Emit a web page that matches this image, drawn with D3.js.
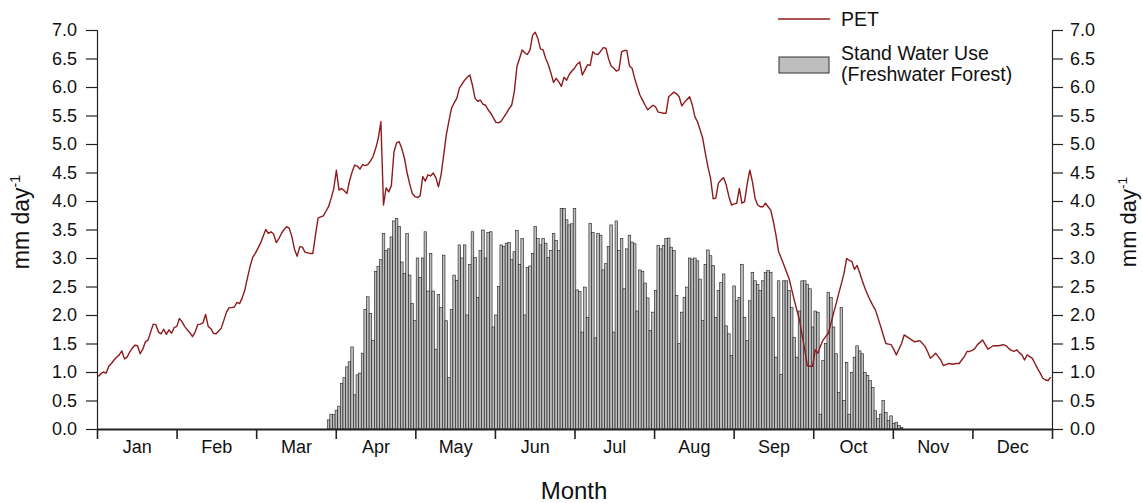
<!DOCTYPE html>
<html>
<head>
<meta charset="utf-8">
<script src="https://cdn.jsdelivr.net/npm/d3@7"></script>
<style>
  html, body { margin: 0; padding: 0; background: #fff; }
  svg { display: block; font-family: "Liberation Sans", Arial, sans-serif; }
</style>
</head>
<body>
<svg id="chart" width="1143" height="503"></svg>
<script>
// Month labels along the x axis (year split into 12 equal intervals)
const months = ["Jan", "Feb", "Mar", "Apr", "May", "Jun", "Jul", "Aug", "Sep", "Oct", "Nov", "Dec"];

// y-axis tick values (mm day-1), shared by both vertical axes
const yTicks = [0, 0.5, 1, 1.5, 2, 2.5, 3, 3.5, 4, 4.5, 5, 5.5, 6, 6.5, 7];

// Daily potential evapotranspiration, day 1..365 (mm day-1)
const pet = [
  0.92, 0.97, 1.00, 0.98, 1.10, 1.15, 1.21, 1.26, 1.30, 1.37,
  1.23, 1.26, 1.35, 1.42, 1.47, 1.46, 1.32, 1.40, 1.53, 1.56,
  1.70, 1.84, 1.83, 1.70, 1.67, 1.75, 1.66, 1.74, 1.68, 1.78,
  1.80, 1.94, 1.88, 1.80, 1.74, 1.69, 1.62, 1.70, 1.83, 1.84,
  1.86, 2.01, 1.80, 1.76, 1.68, 1.67, 1.72, 1.77, 1.91, 2.05,
  2.13, 2.13, 2.14, 2.22, 2.20, 2.30, 2.44, 2.65, 2.85, 3.01,
  3.08, 3.17, 3.26, 3.38, 3.50, 3.43, 3.46, 3.42, 3.27, 3.34,
  3.43, 3.50, 3.55, 3.52, 3.37, 3.15, 3.03, 3.20, 3.19, 3.10,
  3.09, 3.08, 3.08, 3.40, 3.70, 3.72, 3.74, 3.82, 3.90, 4.05,
  4.22, 4.54, 4.19, 4.22, 4.18, 4.13, 4.35, 4.51, 4.63, 4.61,
  4.56, 4.64, 4.62, 4.64, 4.70, 4.78, 4.92, 5.10, 5.39, 3.93,
  4.23, 4.16, 4.27, 4.86, 5.02, 5.04, 4.92, 4.75, 4.50, 4.30,
  4.13, 4.08, 4.06, 4.09, 4.43, 4.35, 4.46, 4.44, 4.49, 4.41,
  4.25, 4.46, 4.80, 5.16, 5.40, 5.63, 5.72, 5.80, 5.98, 6.05,
  6.12, 6.17, 6.21, 6.03, 5.80, 5.75, 5.77, 5.70, 5.68, 5.60,
  5.54, 5.46, 5.38, 5.37, 5.40, 5.47, 5.54, 5.62, 5.68, 5.92,
  6.36, 6.50, 6.65, 6.60, 6.57, 6.65, 6.91, 6.96, 6.85, 6.67,
  6.65, 6.50, 6.39, 6.24, 6.08, 6.15, 6.09, 6.01, 6.17, 6.12,
  6.22, 6.28, 6.33, 6.40, 6.44, 6.21, 6.30, 6.39, 6.38, 6.62,
  6.58, 6.57, 6.63, 6.69, 6.68, 6.50, 6.37, 6.33, 6.28, 6.30,
  6.62, 6.64, 6.64, 6.37, 6.33, 6.15, 6.00, 5.86, 5.77, 5.68,
  5.60, 5.64, 5.68, 5.65, 5.56, 5.55, 5.54, 5.54, 5.83, 5.87,
  5.91, 5.88, 5.83, 5.67, 5.73, 5.78, 5.83, 5.69, 5.48, 5.39,
  5.25, 5.10, 4.84, 4.60, 4.40, 4.04, 4.05, 4.31, 4.37, 4.41,
  4.28, 4.08, 3.93, 3.95, 3.96, 4.22, 3.96, 3.99, 4.30, 4.54,
  4.34, 4.05, 3.93, 3.90, 3.90, 3.96, 3.90, 3.84, 3.64, 3.40,
  3.11, 3.00, 2.88, 2.76, 2.64, 2.45, 2.26, 2.08, 1.91, 1.65,
  1.39, 1.11, 1.10, 1.10, 1.39, 1.33, 1.45, 1.56, 1.62, 1.68,
  1.85, 2.03, 2.20, 2.38, 2.55, 2.73, 2.99, 2.96, 2.94, 2.80,
  2.87, 2.74, 2.60, 2.47, 2.36, 2.26, 2.17, 2.09, 1.95, 1.80,
  1.65, 1.50, 1.49, 1.48, 1.40, 1.30, 1.40, 1.50, 1.65, 1.62,
  1.59, 1.56, 1.53, 1.54, 1.55, 1.50, 1.45, 1.35, 1.24, 1.28,
  1.33, 1.27, 1.21, 1.11, 1.13, 1.15, 1.14, 1.14, 1.15, 1.15,
  1.21, 1.27, 1.36, 1.36, 1.38, 1.41, 1.48, 1.52, 1.56, 1.48,
  1.40, 1.43, 1.46, 1.46, 1.46, 1.47, 1.48, 1.46, 1.41, 1.38,
  1.36, 1.39, 1.34, 1.30, 1.21, 1.30, 1.27, 1.24, 1.15, 1.06,
  0.98, 0.89, 0.86, 0.85, 0.91
];

// Daily stand water use of the freshwater forest, day 1..365 (mm day-1)
const standWaterUse = [
  // Jan - Mar (days 1-88): no measurable transpiration
  0, 0, 0, 0, 0, 0, 0, 0, 0, 0,  0, 0, 0, 0, 0, 0, 0, 0, 0, 0,
  0, 0, 0, 0, 0, 0, 0, 0, 0, 0,  0, 0, 0, 0, 0, 0, 0, 0, 0, 0,
  0, 0, 0, 0, 0, 0, 0, 0, 0, 0,  0, 0, 0, 0, 0, 0, 0, 0, 0, 0,
  0, 0, 0, 0, 0, 0, 0, 0, 0, 0,  0, 0, 0, 0, 0, 0, 0, 0, 0, 0,
  0, 0, 0, 0, 0, 0, 0, 0,
  // days 89-100
  0.16, 0.26, 0.25, 0.33, 0.40, 0.80, 0.90, 1.09, 1.18, 1.44, 0.60, 0.95,
  // days 101-150
  0.98, 1.33, 2.10, 2.32, 2.03, 1.55, 2.76, 2.85, 2.97, 3.43,
  3.13, 3.16, 3.37, 3.65, 3.69, 3.55, 2.93, 2.73, 3.43, 2.70,
  2.20, 1.90, 3.00, 2.66, 3.00, 3.46, 2.42, 3.08, 2.42, 1.40,
  2.36, 2.13, 3.05, 1.90, 0.90, 2.10, 2.70, 2.61, 3.23, 3.00,
  3.23, 2.00, 2.89, 3.46, 3.01, 2.31, 3.13, 3.49, 3.00, 3.45,
  // days 151-200
  3.46, 1.79, 2.00, 2.50, 3.23, 3.20, 3.26, 3.27, 2.97, 3.11,
  3.48, 2.89, 3.34, 2.00, 2.83, 2.86, 3.08, 3.55, 3.34, 3.23,
  3.34, 3.26, 3.01, 3.13, 3.43, 3.31, 3.13, 3.87, 3.87, 3.67,
  3.58, 3.60, 3.87, 2.44, 2.41, 1.70, 2.49, 1.96, 3.61, 3.45,
  1.60, 3.43, 3.40, 2.79, 2.90, 3.20, 3.58, 1.70, 3.65, 3.13,
  // days 201-250
  3.34, 2.46, 3.16, 3.40, 3.28, 3.25, 2.07, 2.79, 2.76, 2.56,
  2.30, 1.73, 2.05, 2.43, 3.22, 3.16, 3.22, 3.34, 3.35, 3.19,
  3.13, 2.34, 1.50, 2.05, 2.31, 2.49, 3.00, 2.98, 3.00, 2.95,
  2.63, 1.90, 2.89, 3.14, 3.04, 2.87, 1.96, 2.43, 2.57, 2.72,
  1.81, 1.67, 1.29, 2.51, 2.25, 2.31, 2.89, 1.96, 1.55, 2.25,
  // days 251-300
  2.75, 2.60, 2.54, 2.43, 2.60, 2.75, 2.78, 2.75, 1.96, 1.26,
  2.60, 0.96, 2.60, 2.60, 2.43, 2.13, 1.61, 1.26, 2.07, 2.60,
  2.60, 2.54, 2.46, 1.79, 2.07, 2.05, 0.26, 1.20, 1.50, 2.40,
  2.31, 1.79, 1.32, 0.64, 2.13, 0.50, 1.17, 0.26, 0.99, 1.26,
  1.46, 1.37, 1.32, 0.99, 0.94, 0.85, 0.73, 0.32, 0.18, 0.26,
  // days 301-308
  0.50, 0.29, 0.15, 0.23, 0.10, 0.12, 0.06, 0.03,
  // days 309-365: dormant season
  0, 0, 0, 0, 0, 0, 0, 0, 0, 0,  0, 0, 0, 0, 0, 0, 0, 0, 0, 0,
  0, 0, 0, 0, 0, 0, 0, 0, 0, 0,  0, 0, 0, 0, 0, 0, 0, 0, 0, 0,
  0, 0, 0, 0, 0, 0, 0, 0, 0, 0,  0, 0, 0, 0, 0, 0, 0
];

const svg = d3.select("#chart");
const plotLeft = 97, plotRight = 1052, plotTop = 30, plotBottom = 429;
const daysInYear = 365;

const x = d3.scaleLinear().domain([0, daysInYear]).range([plotLeft, plotRight]);
const y = d3.scaleLinear().domain([0, 7]).range([plotBottom, plotTop]);

const petColor = "#8e1b1b";
const barFill = "#bdbdbd";
const barStroke = "#1c1c1c";
const ink = "#111";

// ---- stand water use bars (one per day) ----
const useDays = standWaterUse
  .map((v, i) => ({ day: i + 1, v }))
  .filter(d => d.v > 0);

svg.append("g")
  .selectAll("rect")
  .data(useDays)
  .join("rect")
  .attr("x", d => x(d.day - 1))
  .attr("y", d => y(d.v))
  .attr("width", d => x(d.day) - x(d.day - 1))
  .attr("height", d => y(0) - y(d.v))
  .attr("fill", barFill)
  .attr("stroke", barStroke)
  .attr("stroke-width", 0.6);

// ---- PET line ----
const line = d3.line()
  .x((v, i) => x(i + 0.5))
  .y(v => y(v));

svg.append("path")
  .datum(pet)
  .attr("d", line)
  .attr("fill", "none")
  .attr("stroke", petColor)
  .attr("stroke-width", 1.4)
  .attr("stroke-linejoin", "round");

// ---- axes ----
const fmt = d3.format(".1f");

const yLeft = svg.append("g")
  .attr("transform", `translate(${plotLeft},0)`)
  .call(d3.axisLeft(y).tickValues(yTicks).tickFormat(fmt).tickSize(11).tickPadding(9));

const yRight = svg.append("g")
  .attr("transform", `translate(${plotRight},0)`)
  .call(d3.axisRight(y).tickValues(yTicks).tickFormat(fmt).tickSize(11).tickPadding(7));

const monthBounds = d3.range(0, 13).map(i => i * daysInYear / 12);
const monthMids = d3.range(0, 12).map(i => (i + 0.5) * daysInYear / 12);

const xTicks = svg.append("g")
  .attr("transform", `translate(0,${plotBottom})`)
  .call(d3.axisBottom(x).tickValues(monthBounds).tickFormat("").tickSize(10).tickSizeOuter(0));

const xLabels = svg.append("g")
  .attr("transform", `translate(0,${plotBottom})`)
  .call(d3.axisBottom(x).tickValues(monthMids).tickFormat((d, i) => months[i]).tickSize(0).tickPadding(11));
xLabels.select(".domain").remove();

[yLeft, yRight, xTicks, xLabels].forEach(g => {
  g.selectAll("text")
    .attr("font-family", "'Liberation Sans', Arial, sans-serif")
    .attr("font-size", 18)
    .attr("fill", ink);
  g.selectAll("line").attr("stroke", "#222").attr("stroke-width", 1.2);
  g.select(".domain").attr("stroke", "#222").attr("stroke-width", 1.2);
});
xTicks.select(".domain").attr("stroke-width", 2.2);
xTicks.selectAll("line").attr("stroke-width", 1.6);

// ---- axis titles ----
function unitTitle(cx, cy, size) {
  const t = svg.append("text")
    .attr("transform", `translate(${cx},${cy}) rotate(-90)`)
    .attr("text-anchor", "middle")
    .attr("font-size", size)
    .attr("fill", ink);
  t.append("tspan").text("mm day");
  t.append("tspan").attr("dy", -size * 0.4).attr("font-size", size * 0.62).text("-1");
}
unitTitle(29, 222, 23);
unitTitle(1136, 222, 22);

svg.append("text")
  .attr("x", 574)
  .attr("y", 499)
  .attr("text-anchor", "middle")
  .attr("font-size", 24)
  .attr("fill", ink)
  .text("Month");

// ---- legend ----
const legend = svg.append("g");
legend.append("line")
  .attr("x1", 778).attr("x2", 830)
  .attr("y1", 19).attr("y2", 19)
  .attr("stroke", petColor).attr("stroke-width", 1.4);
legend.append("text")
  .attr("x", 841).attr("y", 26)
  .attr("font-size", 19.5).attr("fill", ink)
  .text("PET");
legend.append("rect")
  .attr("x", 779).attr("y", 57)
  .attr("width", 50).attr("height", 16)
  .attr("fill", barFill).attr("stroke", "#333").attr("stroke-width", 1);
legend.append("text")
  .attr("x", 841).attr("y", 60)
  .attr("font-size", 19.5).attr("fill", ink)
  .text("Stand Water Use");
legend.append("text")
  .attr("x", 841).attr("y", 81)
  .attr("font-size", 19.5).attr("fill", ink)
  .text("(Freshwater Forest)");
</script>
</body>
</html>
